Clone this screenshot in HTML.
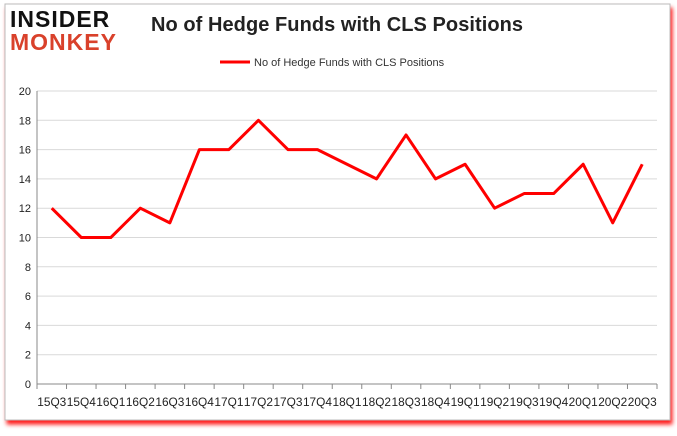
<!DOCTYPE html>
<html><head><meta charset="utf-8"><style>
body{margin:0;background:#fff;font-family:"Liberation Sans",Arial,sans-serif}
</style></head><body>
<svg width="677" height="431" viewBox="0 0 677 431">
<defs><filter id="sh" x="-5%" y="-5%" width="110%" height="115%"><feDropShadow dx="2" dy="4" stdDeviation="2" flood-color="#f00" flood-opacity="0.9"/></filter></defs>
<rect x="5" y="4" width="665" height="416" fill="#fff" stroke="#bbb" filter="url(#sh)"/>
<g>
<text x="10" y="27" font-size="23" font-weight="900" fill="#111" letter-spacing="1">INSIDER</text>
<text x="10" y="50" font-size="23" font-weight="900" fill="#d9412b" letter-spacing="1">MONKEY</text>
</g>
<text x="337" y="31" text-anchor="middle" font-size="20" font-weight="bold" fill="#222" textLength="372">No of Hedge Funds with CLS Positions</text>
<line x1="220" y1="62" x2="250" y2="62" stroke="#f00" stroke-width="3"/>
<text x="254" y="66" font-size="11" fill="#333">No of Hedge Funds with CLS Positions</text>
<g id="grid"></g><g id="axes"></g><g id="series"></g>
</svg>
<script>
const categories=["15Q3","15Q4","16Q1","16Q2","16Q3","16Q4","17Q1","17Q2","17Q3","17Q4","18Q1","18Q2","18Q3","18Q4","19Q1","19Q2","19Q3","19Q4","20Q1","20Q2","20Q3"];
const values=[12,10,10,12,11,16,16,18,16,16,15,14,17,14,15,12,13,13,15,11,15];
const yTicks=[0,2,4,6,8,10,12,14,16,18,20];
const NS="http://www.w3.org/2000/svg";
const X0=37,X1=657,Y0=384,Y1=91,YMAX=20;
const bw=(X1-X0)/categories.length;
const xs=i=>X0+bw*(i+0.5);
const ys=v=>Y0-(v/YMAX)*(Y0-Y1);
function mk(t,a,p){const e=document.createElementNS(NS,t);for(const k in a)e.setAttribute(k,a[k]);p.appendChild(e);return e;}
const grid=document.getElementById('grid'),axes=document.getElementById('axes'),series=document.getElementById('series');
yTicks.forEach(v=>{
 const l=mk('line',{x1:X0,x2:X1,y1:ys(v),y2:ys(v),stroke:v===0?'#888':'#d9d9d9'},grid);
 
 
 const t=mk('text',{x:X0-6,y:ys(v)+4,'text-anchor':'end','font-size':11,fill:'#222'},axes);
 t.textContent=v;
 
 
});
const ax=mk('line',{x1:X0,x2:X0,y1:Y1,y2:Y0,stroke:'#888'},axes);


for(let i=0;i<=categories.length;i++){
 const tk=mk('line',{x1:X0+bw*i,x2:X0+bw*i,y1:Y0,y2:Y0+5,stroke:'#888'},axes);
 
 
}
categories.forEach((c,i)=>{
 const t=mk('text',{x:xs(i),y:406,'text-anchor':'middle','font-size':12,fill:'#222',textLength:bw-0.5,lengthAdjust:'spacingAndGlyphs'},axes);
 t.textContent=c;
 
 
});
const pl=mk('polyline',{points:values.map((v,i)=>xs(i)+','+ys(v)).join(' '),fill:'none',stroke:'#f00','stroke-width':3,'stroke-linejoin':'round'},series);


</script>
</body></html>
